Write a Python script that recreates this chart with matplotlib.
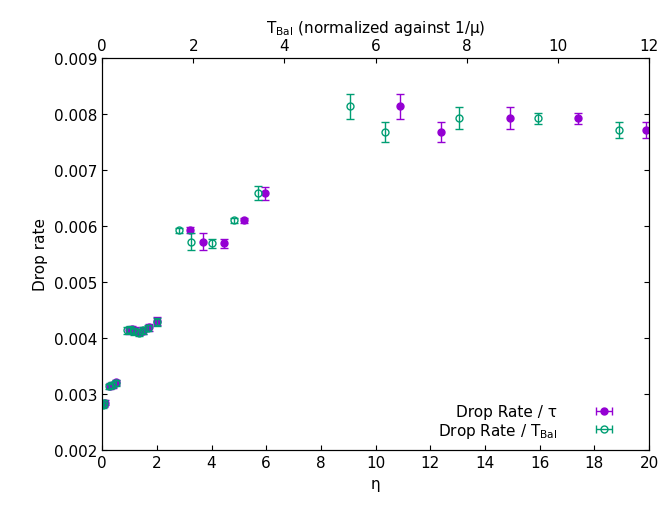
import numpy as np
import matplotlib.pyplot as plt

# Drop rate vs eta (bottom axis)
eta = [0.05, 0.1, 0.3, 0.4, 0.5, 1.0, 1.1, 1.2, 1.35, 1.5, 1.7, 2.0,
       3.2, 3.7, 4.45, 5.2, 5.95, 10.9, 12.4, 14.9, 17.4, 19.9]
rate_tau = [0.00282, 0.00285, 0.00315, 0.00317, 0.00321, 0.00414, 0.00416, 0.00413, 0.00411, 0.00413, 0.00419, 0.00430,
            0.00593, 0.00572, 0.00569, 0.00610, 0.00658, 0.00813, 0.00768, 0.00792, 0.00792, 0.00771]
err_tau = [0.00005, 0.00005, 0.00005, 0.00005, 0.00005, 0.00006, 0.00006, 0.00006, 0.00006, 0.00006, 0.00006, 0.00007,
           0.00005, 0.00015, 0.00008, 0.00005, 0.00012, 0.00022, 0.00018, 0.0002, 0.0001, 0.00015]

# Drop rate vs T_Bal (top axis)
tbal = [0.02, 0.05, 0.15, 0.22, 0.3, 0.55, 0.62, 0.7, 0.8, 0.9, 1.0, 1.2,
        1.69, 1.95, 2.41, 2.89, 3.42, 5.43, 6.2, 7.82, 9.57, 11.34]
rate_bal = [0.00280, 0.00284, 0.00314, 0.00316, 0.00320, 0.00414, 0.00415, 0.00412, 0.00410, 0.00414, 0.00418, 0.00429,
            0.00592, 0.00572, 0.00569, 0.00610, 0.00659, 0.00813, 0.00768, 0.00792, 0.00792, 0.00771]
err_bal = [0.00005, 0.00005, 0.00005, 0.00005, 0.00005, 0.00006, 0.00006, 0.00006, 0.00006, 0.00006, 0.00006, 0.00007,
           0.00005, 0.00015, 0.00008, 0.00005, 0.00012, 0.00022, 0.00018, 0.0002, 0.0001, 0.00015]

purple = "#9400d3"
green = "#009e73"

fig = plt.figure(figsize=(6.59, 5.10), dpi=100)
ax = fig.add_axes([0.155, 0.115, 0.83, 0.77])
ax2 = ax.twiny()

ax.errorbar(eta, rate_tau, yerr=err_tau, fmt="o", color=purple, ms=5, capsize=3, elinewidth=1)
ax2.errorbar(tbal, rate_bal, yerr=err_bal, fmt="o", color=green, mfc="none", ms=5, capsize=3, elinewidth=1)

# legend proxies drawn gnuplot-style with horizontal bars
p1 = ax.errorbar([np.nan], [np.nan], xerr=[1], fmt="o", color=purple, ms=5, capsize=3, elinewidth=1,
                 label="Drop Rate / \u03c4")
p2 = ax.errorbar([np.nan], [np.nan], xerr=[1], fmt="o", color=green, mfc="none", ms=5, capsize=3, elinewidth=1,
                 label="Drop Rate / T$_{\\mathrm{Bal}}$")

ax.set_xlim(0, 20)
ax.set_ylim(0.002, 0.009)
ax2.set_xlim(0, 12)
ax.set_xticks(range(0, 21, 2))
ax2.set_xticks(range(0, 13, 2))
ax.set_yticks(np.arange(0.002, 0.0091, 0.001))
ax.set_yticklabels(["%.3f" % v for v in np.arange(0.002, 0.0091, 0.001)])
ax.set_xlabel("\u03b7", fontsize=11)
ax.set_ylabel("Drop rate", fontsize=11)
ax2.set_xlabel("T$_{\\mathrm{Bal}}$ (normalized against 1/\u03bc)", fontsize=11)
for a in (ax, ax2):
    a.tick_params(direction="in", labelsize=11)
ax.tick_params(right=True)

ax.legend([p1, p2], [p1.get_label(), p2.get_label()], loc="lower right", frameon=False, markerfirst=False,
          fontsize=11, handlelength=4.5, borderaxespad=0.3, labelspacing=0.1)

fig.savefig("out.png")
